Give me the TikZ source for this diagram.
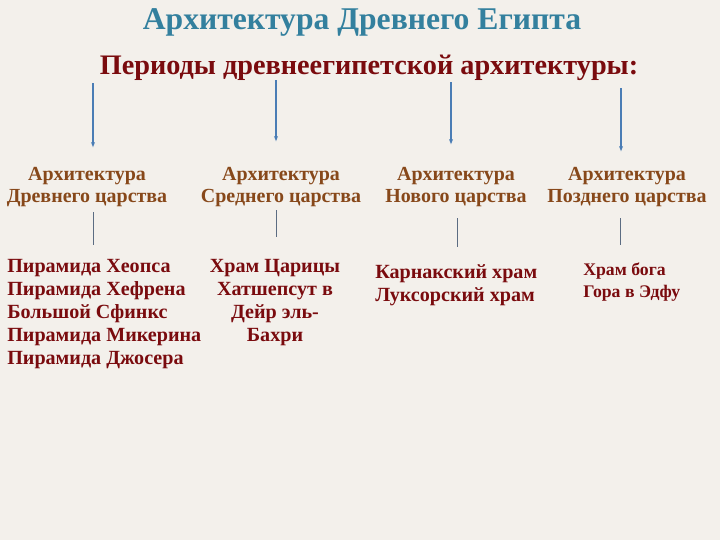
\documentclass[tikz,border=0pt]{standalone}
\usepackage{fontspec}
\setmainfont{Liberation Serif}
\usetikzlibrary{arrows.meta}
\definecolor{bgpaper}{HTML}{F3F0EB}
\definecolor{titleblue}{HTML}{33809E}
\definecolor{darkred}{HTML}{7A0B0E}
\definecolor{labelbrown}{HTML}{87481A}
\definecolor{arrowblue}{HTML}{4A7DB5}
\definecolor{linegray}{HTML}{5B6C82}
\tikzset{
  period/.style={align=center,text=labelbrown,font=\bfseries\fontsize{14.2}{16.3}\selectfont,inner sep=0pt},
  sights/.style={text=darkred,font=\bfseries\fontsize{14.3}{16.3}\selectfont,inner sep=0pt},
  down/.style={arrowblue,line width=0.9pt,-{Latex[length=4pt,width=3pt]}},
  tick/.style={linegray,line width=0.6pt}
}
\begin{document}
\begin{tikzpicture}[x=0.025cm,y=-0.025cm]
        \fill[bgpaper] (0,0) rectangle (720,540);
        \useasboundingbox (0,0) rectangle (720,540);
        \node[anchor=base,text=titleblue,font=\bfseries\fontsize{22.5}{26}\selectfont] (title) at (362,29) {Архитектура Древнего Египта};
        \node[anchor=base,text=darkred,font=\bfseries\fontsize{20.1}{24}\selectfont] (periods) at (369,74) {Периоды древнеегипетской архитектуры:};
        % periods
        \node[period] (old) at (87,187) {Архитектура\\Древнего царства};
        \node[period] (middle) at (281,187) {Архитектура\\Среднего царства};
        \node[period] (new) at (456,187) {Архитектура\\Нового царства};
        \node[period] (late) at (627,187) {Архитектура\\Позднего царства};
        % arrows from the heading
        \foreach \i/\x/\ya/\yb in {1/93/83/148,2/276/80/142,3/451/82/145,4/621/88/152} {
            \coordinate (a\i top) at (\x,\ya);
            \coordinate (a\i end) at (\x,\yb);
            \draw[down] (a\i top) -- (a\i end);
        }
        % lists of buildings
        \node[sights,anchor=west,align=left] (oldlist) at (7,314) {Пирамида Хеопса\\Пирамида Хефрена\\Большой Сфинкс\\Пирамида Микерина\\Пирамида Джосера};
        \node[sights,align=center] (middlelist) at (275,302.5) {Храм Царицы\\Хатшепсут в\\Дейр эль-\\Бахри};
        \node[sights,anchor=west,align=left] (newlist) at (375,285.5) {Карнакский храм\\Луксорский храм};
        \node[sights,anchor=west,align=left,font=\bfseries\fontsize{12.6}{15.5}\selectfont] (latelist) at (583,282) {Храм бога\\Гора в Эдфу};
        \foreach \i/\x/\ya/\yb in {1/93/212/245,2/276/210/237,3/457/218/247,4/620/218/245} {
            \coordinate (t\i top) at (\x,\ya);
            \coordinate (t\i end) at (\x,\yb);
            \draw[tick] (t\i top) -- (t\i end);
        }
\end{tikzpicture}
\end{document}
